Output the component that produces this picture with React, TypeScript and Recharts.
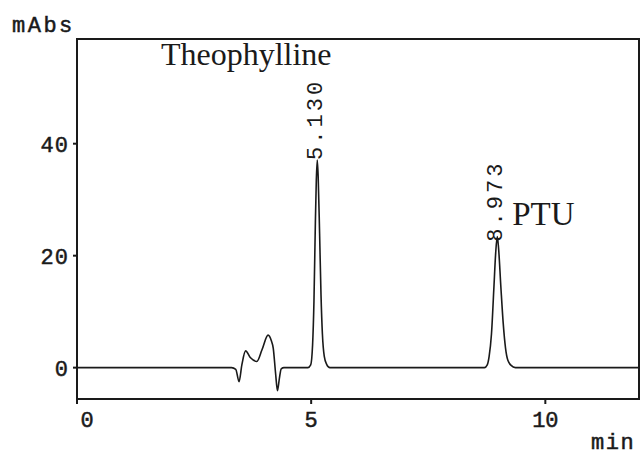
import React from "react";
import { LineChart, Line, XAxis, YAxis, ReferenceDot, ReferenceArea } from "recharts";

// chromatogram trace, retention time (min) vs absorbance (mAbs)
const time = [
  0, 3.3, 3.39, 3.46, 3.52, 3.6, 3.7, 3.84, 3.95, 4.08, 4.15, 4.19, 4.24, 4.28, 4.32, 4.36, 4.42,
  4.93, 4.99, 5.03, 5.06, 5.09, 5.11, 5.13, 5.15, 5.18, 5.21, 5.24, 5.28, 5.33, 5.4,
  8.7, 8.76, 8.8, 8.85, 8.9, 8.94, 8.973, 9.0, 9.05, 9.1, 9.15, 9.2, 9.27, 9.36,
  12,
];
const absorbance = [
  0, 0, -0.3, -2.5, 0.5, 3.0, 1.8, 1.1, 3.2, 5.8, 4.8, 3.5, -1.0, -4.1, -2.0, -0.2, 0,
  0, 0.5, 4, 12, 26, 33.5, 37.1, 34, 24, 13, 6, 2, 0.6, 0,
  0, 0.5, 2, 6, 14, 20.5, 23.4, 21.5, 14.5, 8, 3.5, 1.3, 0.4, 0,
  0,
];

const peakTimes = [5.13, 8.973];
const peakHeights = [37.1, 23.4];
const peakLabels = ["5.130", "8.973"];
const compoundNames = ["Theophylline", "PTU"];

const xTicks = [0, 5, 10];
const yTicks = [0, 20, 40];
const xDomain = [0, 12];
const yDomain = [-5.6, 58.7];

const data = time.map((t, i) => ({ t, v: absorbance[i] }));

const MONO = "'Liberation Mono', 'Courier New', monospace";
const SERIF = "'Liberation Serif', 'Times New Roman', serif";
const INK = "#1a1a1a";

const monoText = {
  fontFamily: MONO,
  fontSize: 22,
  fill: INK,
  stroke: INK,
  strokeWidth: 0.5,
};

function XTick({ x, y, payload }: any) {
  // the zero label sits just right of the frame corner
  const dx = payload.value === 0 ? 10 : 0;
  return (
    <text x={x + dx} y={y} dy="0.71em" textAnchor="middle" {...monoText}>
      {payload.value}
    </text>
  );
}

function YTick({ x, y, payload }: any) {
  return (
    <text x={x} y={y} dy="0.36em" textAnchor="end" letterSpacing={1} {...monoText}>
      {payload.value}
    </text>
  );
}

function peakLabel(i: number) {
  return (props: any) => {
    const vb = props.viewBox;
    const cx = vb.x + vb.width / 2;
    const cy = vb.y + vb.height / 2;
    const nameX = i === 0 ? cx - 71 : cx + 15;
    const nameY = i === 0 ? 65 : cy - 12;
    const startY = i === 0 ? cy : cy + 5;
    return (
      <g>
        <text
          transform={`translate(${cx + 5},${startY}) rotate(-90)`}
          fontFamily={MONO}
          fontSize={22}
          letterSpacing={3}
          fill={INK}
        >
          {peakLabels[i]}
        </text>
        <text
          x={nameX}
          y={nameY}
          textAnchor={i === 0 ? "middle" : "start"}
          fontFamily={SERIF}
          fontSize={i === 0 ? 32 : 33}
          fill={INK}
        >
          {compoundNames[i]}
        </text>
      </g>
    );
  };
}

export default function App() {
  return (
    <div style={{ position: "absolute", left: 0, top: 0, background: "#fff" }}>
      <LineChart width={642} height={456} data={data} margin={{ top: 39, right: 3, bottom: 0, left: 0 }}>
        <XAxis
          dataKey="t"
          type="number"
          domain={xDomain}
          ticks={xTicks}
          height={57}
          stroke={INK}
          strokeWidth={2}
          tickSize={5}
          tickMargin={7}
          tick={<XTick />}
          label={{
            content: () => (
              <text x={591} y={449} letterSpacing={1.5} {...monoText}>
                min
              </text>
            ),
          }}
        />
        <YAxis
          type="number"
          domain={yDomain}
          ticks={yTicks}
          width={77}
          stroke={INK}
          strokeWidth={2}
          tickSize={4}
          tickMargin={4}
          tick={<YTick />}
          label={{
            content: (p: any) => (
              <text x={12} y={p.viewBox.y - 7} letterSpacing={2.5} {...monoText}>
                mAbs
              </text>
            ),
          }}
        />
        {/* plot frame */}
        <ReferenceArea
          x1={xDomain[0]}
          x2={xDomain[1]}
          y1={yDomain[0]}
          y2={yDomain[1]}
          fill="none"
          fillOpacity={0}
          stroke={INK}
          strokeWidth={2}
        />
        <Line
          type="monotone"
          dataKey="v"
          stroke={INK}
          strokeWidth={1.6}
          dot={false}
          isAnimationActive={false}
        />
        {peakTimes.map((t, i) => (
          <ReferenceDot
            key={t}
            x={t}
            y={peakHeights[i]}
            r={1}
            fill="none"
            stroke="none"
            label={{ content: peakLabel(i) }}
          />
        ))}
      </LineChart>
    </div>
  );
}
